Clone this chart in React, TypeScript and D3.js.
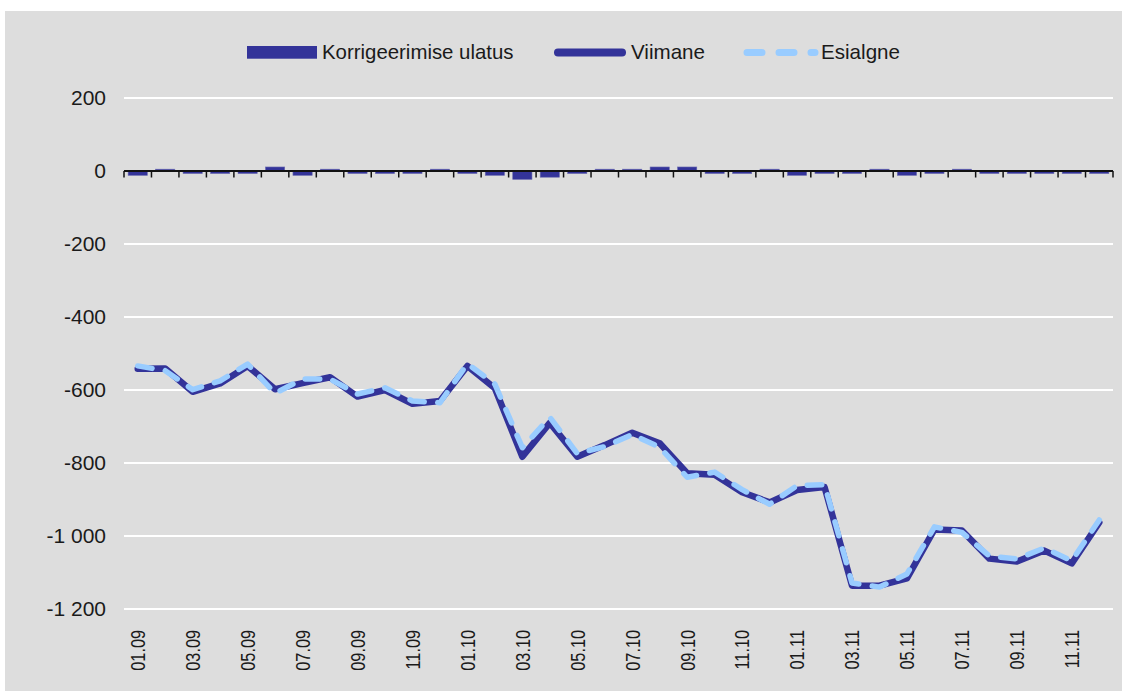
import React from 'react';
import * as d3 from 'd3';

// months 01.09 .. 12.11
const months = [
  '01.09', '02.09', '03.09', '04.09', '05.09', '06.09', '07.09', '08.09', '09.09', '10.09', '11.09', '12.09',
  '01.10', '02.10', '03.10', '04.10', '05.10', '06.10', '07.10', '08.10', '09.10', '10.10', '11.10', '12.10',
  '01.11', '02.11', '03.11', '04.11', '05.11', '06.11', '07.11', '08.11', '09.11', '10.11', '11.11', '12.11',
];

// Korrigeerimise ulatus
const correction = [
  -12, 5, -7, -7, -7, 11, -12, 5, -7, -7, -7, 5,
  -7, -12, -23, -17, -7, 5, 5, 11, 11, -7, -7, 5,
  -12, -7, -7, 5, -12, -7, 5, -7, -7, -7, -7, -7,
];

// Viimane
const latest = [
  -542, -541, -605, -582, -534, -598, -581, -565, -618, -600, -638, -630,
  -534, -595, -783, -690, -783, -751, -717, -746, -828, -832, -880, -908,
  -874, -866, -1136, -1136, -1116, -982, -985, -1062, -1070, -1040, -1075, -963,
];

// Esialgne
const initial = [
  -534, -547, -599, -575, -529, -609, -570, -570, -611, -594, -630, -635,
  -528, -584, -758, -675, -774, -755, -722, -757, -839, -825, -873, -913,
  -862, -859, -1129, -1140, -1104, -975, -990, -1055, -1063, -1033, -1068, -956,
];

const yTicks = [200, 0, -200, -400, -600, -800, -1000, -1200];

const W = 1122;
const H = 691;
const left = 124;
const right = 1113;
const top = 98;
const bottom = 609;

const textColor = '#1a1a1a';
const dark = '#333399';
const light = '#99ccff';
const font = '"Liberation Sans", Arial, sans-serif';

const fmt = (v: number) => {
  const s = Math.abs(v).toString();
  const grouped = s.length > 3 ? s.slice(0, s.length - 3) + ' ' + s.slice(-3) : s;
  return (v < 0 ? '-' : '') + grouped;
};

export default function App() {
  const x = d3.scaleBand<string>().domain(months).range([left, right]).padding(0);
  const y = d3.scaleLinear().domain([-1200, 200]).range([bottom, top]);
  const bw = x.bandwidth();
  const cx = (i: number) => (x(months[i]) as number) + bw / 2;

  const line = d3
    .line<number>()
    .x((_, i) => cx(i))
    .y((d) => y(d));

  const boundaries = months.map((m) => x(m) as number).concat([right]);

  return (
    <svg
      width={W}
      height={H}
      style={{ position: 'absolute', left: 0, top: 0, fontFamily: font }}
    >
      <rect x={0} y={0} width={W} height={H} fill="#ffffff" />
      <rect x={5} y={11} width={W - 5} height={H - 11} fill="#dddddd" />

      {/* grid */}
      {yTicks
        .filter((t) => t !== 0)
        .map((t) => (
          <line key={t} x1={left} x2={right} y1={y(t)} y2={y(t)} stroke="#ffffff" strokeWidth={2} />
        ))}

      {/* y labels */}
      {yTicks.map((t) => (
        <text key={t} x={106} y={y(t)} dy="0.35em" textAnchor="end" fontSize={21} fill={textColor}>
          {fmt(t)}
        </text>
      ))}

      {/* bars */}
      {correction.map((v, i) => {
        const w = bw * 0.7;
        return (
          <rect
            key={i}
            x={cx(i) - w / 2}
            y={Math.min(y(v), y(0))}
            width={w}
            height={Math.abs(y(v) - y(0))}
            fill={dark}
            stroke="#6a6ab0"
            strokeWidth={0.6}
          />
        );
      })}

      {/* zero axis */}
      <line x1={left} x2={right} y1={y(0)} y2={y(0)} stroke="#111" strokeWidth={2} />
      {boundaries.map((bx, i) => (
        <line key={i} x1={bx} x2={bx} y1={y(0)} y2={y(0) + 6.5} stroke="#111" strokeWidth={1.5} />
      ))}

      {/* lines */}
      <path
        d={line(latest) as string}
        fill="none"
        stroke={dark}
        strokeWidth={6.5}
        strokeLinejoin="round"
        strokeLinecap="round"
      />
      <path
        d={line(initial) as string}
        fill="none"
        stroke={light}
        strokeWidth={5.5}
        strokeLinejoin="round"
        strokeLinecap="round"
        strokeDasharray="14.5 13.5"
      />

      {/* x labels */}
      {months.map((m, i) =>
        i % 2 === 0 ? (
          <text
            key={m}
            transform={`translate(${cx(i)},630) rotate(-90) scale(0.775,1)`}
            dy="0.35em"
            textAnchor="end"
            fontSize={21}
            fill={textColor}
          >
            {m}
          </text>
        ) : null
      )}

      {/* legend */}
      <rect x={247} y={46} width={70} height={12.7} fill={dark} />
      <text x={322} y={59} fontSize={20.4} fill={textColor}>
        Korrigeerimise ulatus
      </text>
      <line x1={558} x2={622} y1={52.5} y2={52.5} stroke={dark} strokeWidth={8} strokeLinecap="round" />
      <text x={631} y={59} fontSize={20.6} fill={textColor}>
        Viimane
      </text>
      <line
        x1={747}
        x2={815}
        y1={52.5}
        y2={52.5}
        stroke={light}
        strokeWidth={7}
        strokeLinecap="round"
        strokeDasharray="15 17"
      />
      <text x={821} y={59} fontSize={20.6} fill={textColor}>
        Esialgne
      </text>
    </svg>
  );
}
